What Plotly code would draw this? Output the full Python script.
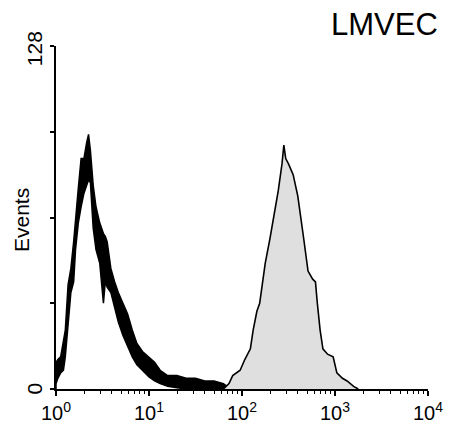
import numpy as np
import plotly.graph_objects as go

# Control (isotype) histogram: log10 fluorescence positions with lower/upper envelope of the noisy counts
ctrl_log = [0.0, 0.02, 0.05, 0.08, 0.10, 0.13, 0.16, 0.19, 0.21, 0.24, 0.27, 0.30, 0.33, 0.35,
            0.37, 0.40, 0.43, 0.47, 0.51, 0.53, 0.55, 0.59, 0.63, 0.67, 0.72, 0.77, 0.82, 0.87, 0.93,
            1.00, 1.06, 1.12, 1.20, 1.30, 1.40, 1.50, 1.60, 1.70, 1.80, 1.88]
ctrl_hi = [10, 11, 12, 18, 22, 39, 45, 55, 64, 75, 86, 86, 92, 95, 89, 76, 68, 62, 58, 57, 55, 45,
           40, 36, 32, 28, 22, 17, 14, 12, 10, 7, 5, 5, 4, 4, 3, 3, 2, 0]
ctrl_lo = [2, 4, 6, 7, 12, 23, 36, 40, 52, 62, 68, 73, 76, 78, 77, 60, 52, 47, 32, 40, 38, 36, 30,
           25, 20, 16, 12, 9, 7, 4.5, 3, 2, 1, 0.5, 0, 0, 0, 0, 0, 0]

# Stained (LMVEC) histogram
stain_log = [1.80, 1.86, 1.90, 1.94, 1.98, 2.03, 2.09, 2.12, 2.16, 2.19, 2.25, 2.30, 2.34, 2.39,
             2.43, 2.45, 2.47, 2.50, 2.55, 2.60, 2.66, 2.71, 2.76, 2.79, 2.81, 2.84, 2.87, 2.92,
             2.98, 3.02, 3.08, 3.13, 3.20, 3.25]
stain_counts = [0, 2, 5, 6, 7, 11, 15, 22, 29, 32, 47, 56, 64, 74, 84, 91, 86, 84, 80, 72, 57,
                44, 41, 40, 32, 22, 15, 13, 12, 6, 4, 3, 1, 0]

x_tickvals = [1, 10, 100, 1000, 10000]
x_ticktext = ["10<sup>0</sup>", "10<sup>1</sup>", "10<sup>2</sup>", "10<sup>3</sup>", "10<sup>4</sup>"]
y_tickvals = [0, 32, 64, 96, 128]
y_ticktext = ["0\u00a0", "", "", "", "128\u00a0\u00a0"]

ctrl_x = np.power(10.0, ctrl_log)
stain_x = np.power(10.0, stain_log)

fig = go.Figure()
fig.add_trace(go.Scatter(
    x=np.concatenate([[ctrl_x[0]], ctrl_x, ctrl_x[::-1]]),
    y=np.concatenate([[0], ctrl_hi, ctrl_lo[::-1]]),
    mode="lines", fill="toself", fillcolor="black",
    line=dict(color="black", width=1.5), hoverinfo="skip", showlegend=False))
fig.add_trace(go.Scatter(
    x=stain_x, y=stain_counts, mode="lines", fill="tozeroy", fillcolor="#dfdfdf",
    line=dict(color="black", width=1.6), showlegend=False))

font = "Liberation Sans, Arial, sans-serif"
fig.update_layout(
    width=456, height=425,
    margin=dict(l=56, r=28, t=46, b=36, autoexpand=False),
    paper_bgcolor="white", plot_bgcolor="white",
    font=dict(family=font, color="black", size=20),
    xaxis=dict(type="log", range=[0, 4], tickvals=x_tickvals, ticktext=x_ticktext,
               showgrid=False, zeroline=False, showline=True, linecolor="black", linewidth=2,
               ticks="outside", ticklen=5, tickwidth=1.5, tickcolor="black",
               tickfont=dict(size=20),
               minor=dict(ticks="outside", ticklen=3, tickwidth=1, tickcolor="black",
                          dtick="D1", showgrid=False)),
    yaxis=dict(range=[0, 128], tickvals=y_tickvals, ticktext=y_ticktext, tickangle=-90,
               showgrid=False, zeroline=False, showline=True, linecolor="black", linewidth=2,
               ticks="outside", ticklen=4, tickwidth=1.5, tickcolor="black",
               tickfont=dict(size=21)),
    annotations=[
        dict(text="LMVEC", x=0.882, y=1.064, xref="paper", yref="paper", showarrow=False,
             font=dict(size=31), xanchor="center", yanchor="middle"),
        dict(text="Events", x=-0.091, y=0.493, xref="paper", yref="paper", showarrow=False,
             textangle=-90, font=dict(size=21), xanchor="center", yanchor="middle"),
    ],
)

fig.write_html("out.html")
